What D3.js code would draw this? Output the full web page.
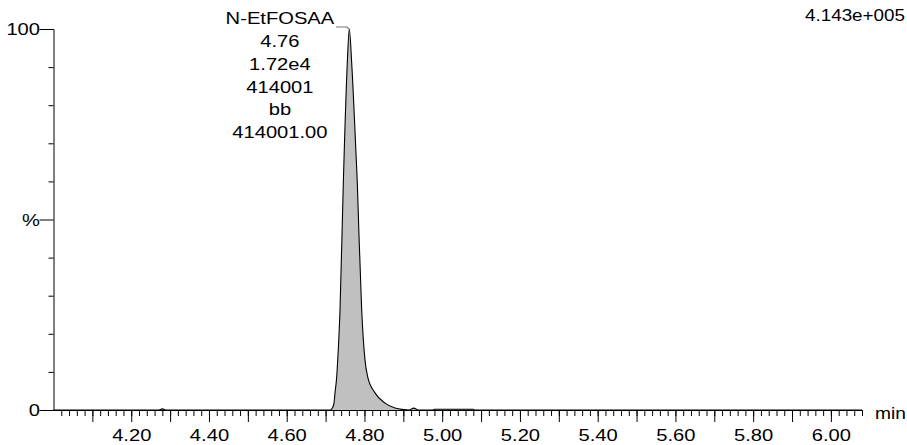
<!DOCTYPE html>
<html>
<head>
<meta charset="utf-8">
<script src="https://cdn.jsdelivr.net/npm/d3@7"></script>
<style>
  html, body { margin: 0; padding: 0; background: #fff; overflow: hidden; }
  svg { display: block; }
  text { font-family: "Liberation Sans", Arial, Helvetica, sans-serif; font-size: 16px; fill: #000; }
</style>
</head>
<body>
<div id="chart"></div>
<script>
// ---- data ----
const times = [4.00, 4.27, 4.28, 4.29, 4.70, 4.712, 4.7173, 4.7216, 4.7242, 4.7286, 4.7312, 4.7371,
               4.7456, 4.7558, 4.7610, 4.7672, 4.7775, 4.7816, 4.7852,
               4.7929, 4.8014, 4.8083, 4.8271, 4.8528, 4.8786, 4.900, 4.915, 4.927, 4.938, 4.975, 4.980,
               5.080, 5.085, 6.08];
const intensities = [0, 0, 0.3, 0, 0, 0, 0.5, 1.8, 4.5, 8.7, 13.1, 26.2,
                     59.6, 91, 100, 91, 69, 59.6, 48.1,
                     26.2, 13.1, 8.7, 4.5, 1.8, 0.5, 0.1, 0, 0.5, 0, 0, 0.2,
                     0.2, 0, 0];
const xLabelTicks = [4.20, 4.40, 4.60, 4.80, 5.00, 5.20, 5.40, 5.60, 5.80, 6.00];
const yTickValues = [0, 10, 20, 30, 40, 50, 60, 70, 80, 90, 100];
const yTickLabels = {0: "0", 50: "%", 100: "100"};
const peakTime = 4.76;
const peakLabels = ["N-EtFOSAA", "4.76", "1.72e4", "414001", "bb", "414001.00"];
const maxIntensityLabel = "4.143e+005";
const xUnit = "min";

// ---- layout ----
const W = 907, H = 445;
const mLeft = 53.5, mRight = 862, mTop = 29, mBottom = 410;
const SX = 1.26; // horizontal text stretch

const svg = d3.select("#chart").append("svg").attr("width", W).attr("height", H);

const x = d3.scaleLinear().domain([4.0, 6.08]).range([mLeft, mRight]);
const y = d3.scaleLinear().domain([0, 100]).range([mBottom, mTop]);

// peak area + line
const pts = times.map((t, i) => [t, intensities[i]]);
const area = d3.area().x(d => x(d[0])).y0(y(0)).y1(d => y(d[1])).curve(d3.curveMonotoneX);
const line = d3.line().x(d => x(d[0])).y(d => y(d[1])).curve(d3.curveMonotoneX);
svg.append("path").datum(pts).attr("d", area).attr("fill", "#c0c0c0");
svg.append("path").datum(pts).attr("d", line).attr("fill", "none").attr("stroke", "#000").attr("stroke-width", 1.1);

// x axis: minor ticks every 0.02, major every 0.1, labels every 0.2
const minorX = d3.range(1, 105).map(i => +(4 + i * 0.02).toFixed(2));
const majorX = d3.range(1, 21).map(i => +(4 + i * 0.1).toFixed(2));
svg.append("g").attr("transform", `translate(0,${mBottom})`)
  .call(d3.axisBottom(x).tickValues(minorX).tickSize(6).tickFormat("").tickSizeOuter(0))
  .call(g => g.select(".domain").attr("stroke", "#000"))
  .call(g => g.selectAll(".tick line").attr("stroke", "#000"));
svg.append("g").attr("transform", `translate(0,${mBottom})`)
  .call(d3.axisBottom(x).tickValues(majorX).tickSize(12).tickSizeOuter(0)
        .tickFormat(d => xLabelTicks.some(v => Math.abs(v - d) < 1e-6) ? d3.format(".2f")(d) : ""))
  .call(g => g.select(".domain").remove())
  .call(g => g.selectAll(".tick line").attr("stroke", "#000"))
  .call(g => g.selectAll(".tick text")
      .attr("y", 31.5).attr("dy", 0)
      .attr("transform", `scale(${SX},1)`)
      .attr("font-family", null).attr("font-size", null));

// y axis
svg.append("g").attr("transform", `translate(${mLeft},0)`)
  .call(d3.axisLeft(y).tickValues(yTickValues).tickSizeOuter(0)
        .tickSize(5).tickFormat(d => yTickLabels[d] || ""))
  .call(g => g.select(".domain").attr("stroke", "#000"))
  .call(g => g.selectAll(".tick line").attr("stroke", "#000")
      .attr("x2", d => yTickLabels[d] !== undefined ? -14 : -5))
  .call(g => g.selectAll(".tick text")
      .attr("x", -13.5 / SX).attr("dy", "0.36em")
      .attr("transform", `scale(${SX},1)`)
      .attr("font-family", null).attr("font-size", null));

// peak annotation
const apexX = x(peakTime), apexY = y(100);
const labelCx = apexX - 69;
svg.append("polyline")
  .attr("points", `${labelCx + 56},${apexY - 2} ${apexX - 2},${apexY - 2} ${apexX},${apexY}`)
  .attr("fill", "none").attr("stroke", "#777").attr("stroke-width", 1.2);
svg.append("g").selectAll("text").data(peakLabels).join("text")
  .attr("transform", (d, i) => `translate(${labelCx},${24 + i * 22.85}) scale(${SX},1)`)
  .attr("text-anchor", "middle")
  .text(d => d);

// max intensity label (top right)
svg.append("text").attr("x", 805).attr("y", 21)
  .attr("textLength", 100).attr("lengthAdjust", "spacingAndGlyphs")
  .text(maxIntensityLabel);

// unit label
svg.append("text").attr("transform", `translate(875,418.5) scale(1.2,1)`).text(xUnit);
</script>
</body>
</html>
